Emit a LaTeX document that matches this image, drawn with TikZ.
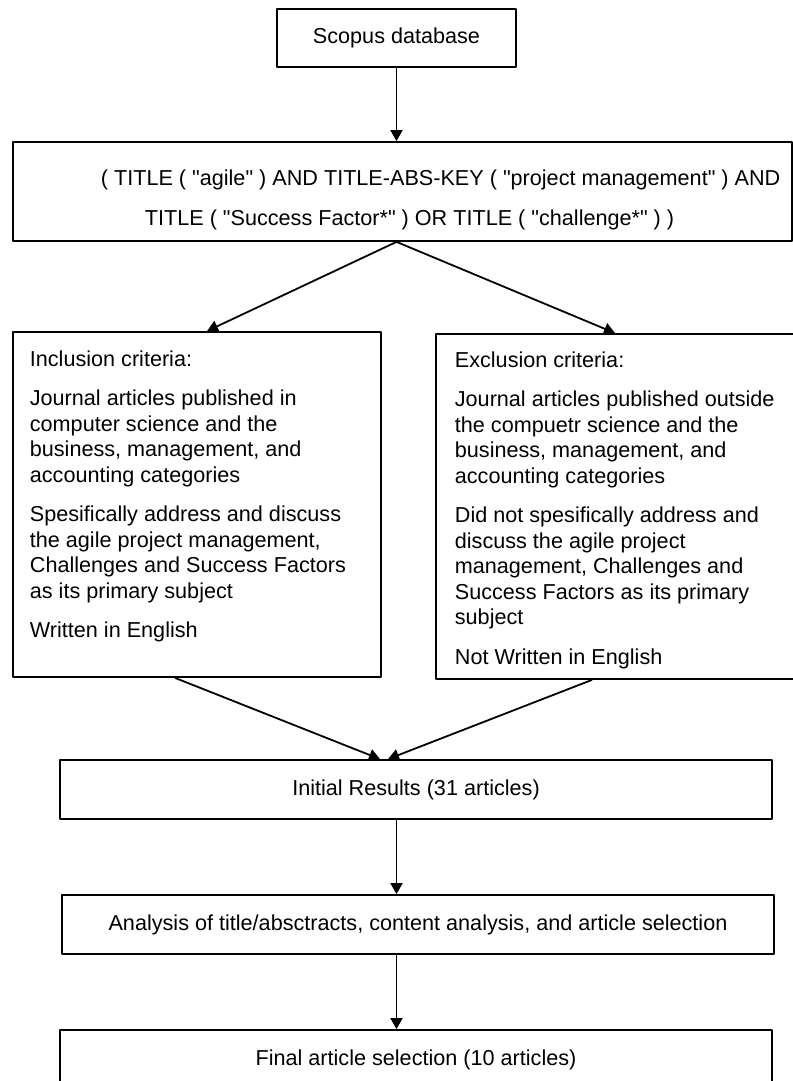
\documentclass[tikz,border=0pt]{standalone}
\usepackage{fontspec}
\setmainfont{Liberation Sans}[Ligatures=TeXOff]
\usetikzlibrary{arrows.meta}
\begin{document}
\begin{tikzpicture}[>={Triangle[length=11bp,width=12bp]},line join=bevel,line width=1.8bp,
  box/.style={draw,inner sep=0pt,font=\fontsize{21.7}{25.6}\selectfont},
  txt/.style={inner sep=0pt,anchor=base west,align=left,font=\fontsize{21.7}{25.6}\selectfont}]
%%
\useasboundingbox (0bp,0bp) rectangle (793bp,1081bp);
\node (scopus) at (396.5bp,1043.0bp) [box,minimum width=239bp,minimum height=58bp] {Scopus database};
  \node (query) at (402.5bp,889.5bp) [box,minimum width=779bp,minimum height=99bp] {};
  \node (qline1) at (100.0bp,895.5bp) [txt] {( TITLE ( "agile" ) AND TITLE-ABS-KEY ( "project management" ) AND};
  \node (qline2) at (144.0bp,855.5bp) [txt] {TITLE ( "Success Factor*" ) OR TITLE ( "challenge*" ) )};
  \node (incl) at (197.0bp,576.5bp) [box,minimum width=368bp,minimum height=345bp] {};
  \node (excl) at (618.0bp,574.5bp) [box,minimum width=364bp,minimum height=345bp] {};
  \node (incltxt) at (29.0bp,731.5bp) [txt,anchor=north west] {Inclusion criteria:\\[14bp]
    Journal articles published in\\ computer science and the\\ business, management, and\\ accounting categories\\[14bp]
    Spesifically address and discuss\\ the agile project management,\\ Challenges and Success Factors\\ as its primary subject\\[14bp]
    Written in English};
  \node (excltxt) at (454.0bp,730.5bp) [txt,anchor=north west] {Exclusion criteria:\\[14bp]
    Journal articles published outside\\ the compuetr science and the\\ business, management, and\\ accounting categories\\[14bp]
    Did not spesifically address and\\ discuss the agile project\\ management, Challenges and\\ Success Factors as its primary\\ subject\\[14bp]
    Not Written in English};
  \node (initial) at (416.0bp,291.5bp) [box,minimum width=712bp,minimum height=59bp] {Initial Results (31 articles)};
  \node (analysis) at (418.0bp,156.5bp) [box,minimum width=712bp,minimum height=59bp] {Analysis of title/absctracts, content analysis, and article selection};
  \node (final) at (416.0bp,21.5bp) [box,minimum width=712bp,minimum height=59bp] {Final article selection (10 articles)};
  \draw [->] (scopus.south) -- (scopus.south |- query.north);
  \draw [->] (scopus.south |- query.south) -- ([xshift=10bp]incl.north);
  \draw [->] (scopus.south |- query.south) -- ([xshift=-3bp]excl.north);
  \draw [->] ([xshift=-22bp]incl.south) -- ([xshift=-36bp]initial.north);
  \draw [->] ([xshift=-26bp]excl.south) -- ([xshift=-28bp]initial.north);
  \draw [->] (scopus.south |- initial.south) -- (scopus.south |- analysis.north);
  \draw [->] (scopus.south |- analysis.south) -- (scopus.south |- final.north);
%
\end{tikzpicture}
\end{document}
